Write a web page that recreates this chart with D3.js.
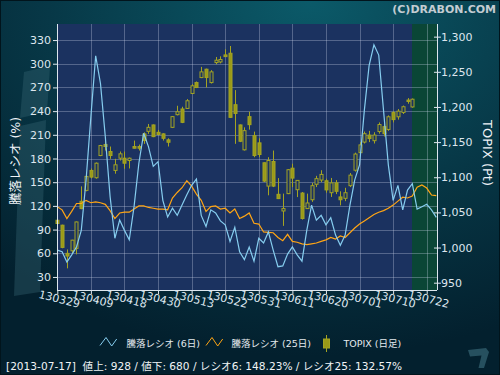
<!DOCTYPE html>
<html>
<head>
<meta charset="utf-8">
<script src="https://cdn.jsdelivr.net/npm/d3@7"></script>
<style>
  body { margin: 0; background: #03202e; }
  svg { display: block; font-family: "DejaVu Sans", "Noto Sans CJK JP", sans-serif; }
</style>
</head>
<body>
<div id="chart"></div>
<script>
// trading days shown on the x axis (yymmdd)
const dates = [
  "130329",
  "130401","130402","130403","130404","130405","130408","130409","130410","130411","130412",
  "130415","130416","130417","130418","130419","130422","130423","130424","130425","130426","130430",
  "130501","130502","130507","130508","130509","130510","130513","130514","130515","130516","130517",
  "130520","130521","130522","130523","130524","130527","130528","130529","130530","130531",
  "130603","130604","130605","130606","130607","130610","130611","130612","130613","130614",
  "130617","130618","130619","130620","130621","130624","130625","130626","130627","130628",
  "130701","130702","130703","130704","130705","130708","130709","130710","130711","130712",
  "130716","130717","130718","130719","130722","130723","130724"
];
const tickLabels = ["130329","130409","130418","130430","130513","130522","130531","130611","130620","130701","130710","130722"];
const leftTicks = [30, 60, 90, 120, 150, 180, 210, 240, 270, 300, 330];
const rightTicks = [950, 1000, 1050, 1100, 1150, 1200, 1250, 1300];

// 騰落レシオ (6日)
const ratio6 = [64, 62, 49, 58, 68, 89, 153, 233, 310, 275, 208, 132, 79, 102, 89, 77, 119, 174, 212, 195,
  170, 176, 127, 106, 117, 108, 121, 134, 146, 154, 108, 94, 115, 111, 101, 96, 75, 93, 62, 52,
  68, 50, 79, 73, 87, 64, 43, 44, 59, 68, 58, 50, 89, 121, 102, 108, 96, 105, 83, 70,
  83, 121, 153, 172, 241, 298, 324, 311, 241, 172, 127, 146, 115, 140, 148.23, 116, 119, 122, 115, 105.5];
// 騰落レシオ (25日)
const ratio25 = [119, 115, 104, 113, 123, 123, 127, 124, 125, 124, 122, 114, 104, 111, 112, 112, 116, 120, 120, 118,
  117, 116, 116, 115, 130, 137, 143, 152, 145, 135, 127, 113, 119, 120, 116, 117, 111, 116, 104, 107,
  111, 98, 97, 87, 86.5, 86, 80, 76, 84, 75, 74, 72, 71, 72, 73, 75, 77, 80, 78, 82,
  80, 86, 92, 97, 101, 105, 109, 112, 114, 117, 121, 126, 131, 130, 132.57, 143.5, 146.4, 142.6, 133.8, 133];

// TOPIX daily candles
const open = [1038.8, 1031.8, 991.7, 995.4, 998.8, 1065.8, 1081.3, 1109.7, 1099.3, 1130.9,
  1146.5, 1136.6, 1109.7, 1127.1, 1127.1, 1123.8, 1143.7, 1143.7, 1161.7, 1165.3,
  1174.4, 1163.9, 1161.7, 1153.2, 1171.0, 1189.0, 1197.1, 1197.9, 1219.2, 1234.7,
  1241.8, 1253.7, 1234.7, 1263.1, 1264.0, 1274.0, 1276.4, 1203.2, 1174.4, 1139.0,
  1186.2, 1159.2, 1148.9, 1120.6, 1087.4, 1122.4, 1075.7, 1052.0, 1076.7, 1112.9,
  1082.3, 1077.5, 1055.4, 1068, 1090, 1096, 1095, 1078, 1092, 1072,
  1070, 1088, 1110, 1135, 1150, 1160, 1152, 1165, 1172, 1168,
  1192, 1186, 1192.2, 1209.8, 1200];
const high = [1039.5, 1032.5, 997.3, 1011.0, 1037.0, 1087.0, 1102.0, 1112.5, 1121.0, 1146.0,
  1152.2, 1143.7, 1126.2, 1136.6, 1136.6, 1128.0, 1152.2, 1146.5, 1163.9, 1175.8,
  1175.0, 1167.3, 1162.5, 1155.4, 1187.0, 1201.7, 1200.3, 1211.2, 1232.5, 1236.2,
  1257.0, 1254.5, 1252.3, 1271.1, 1272.0, 1282.0, 1286.7, 1224.0, 1175.0, 1171.0,
  1193.2, 1164.9, 1155.4, 1121.0, 1128.5, 1138.0, 1098.8, 1076.7, 1111.5, 1119.2,
  1096.0, 1079.0, 1076.7, 1092, 1102, 1110, 1098, 1099, 1096, 1080,
  1085, 1106, 1135, 1150, 1165, 1166, 1164, 1178, 1176, 1188,
  1194, 1197, 1202, 1212.6, 1212];
const low = [1033.5, 999.0, 970.4, 992.1, 990.3, 1054.5, 1080.0, 1098.3, 1098.0, 1130.0,
  1138.0, 1126.2, 1105.0, 1123.8, 1112.1, 1112.5, 1141.0, 1138.0, 1147.5, 1161.7,
  1157.0, 1160.0, 1152.2, 1143.7, 1170.0, 1188.0, 1177.0, 1197.1, 1218.3, 1226.8,
  1241.0, 1227.7, 1233.3, 1260.8, 1262.0, 1271.0, 1184.5, 1147.5, 1150.0, 1138.0,
  1167.7, 1128.5, 1128.5, 1093.1, 1074.3, 1086.0, 1069.0, 1030.8, 1076.0, 1086.0,
  1071.8, 1039.8, 1055.0, 1065, 1086, 1093, 1078, 1072, 1076, 1060,
  1066, 1086, 1108, 1132, 1148, 1150, 1148, 1162, 1158, 1166,
  1178, 1182, 1190, 1204.6, 1199];
const close = [1034.2, 1000.2, 987.9, 1010.5, 1036.4, 1055.4, 1101.2, 1100.2, 1120.0, 1145.1,
  1143.7, 1130.9, 1117.7, 1133.3, 1120.0, 1127.1, 1141.3, 1141.3, 1152.2, 1171.0,
  1157.8, 1160.7, 1155.4, 1149.8, 1186.2, 1193.2, 1178.1, 1208.8, 1230.1, 1227.7,
  1249.9, 1241.8, 1249.9, 1266.5, 1267.5, 1271.6, 1185.2, 1190.8, 1151.2, 1166.3,
  1174.8, 1130.9, 1132.3, 1094.5, 1123.8, 1087.4, 1069.6, 1055.4, 1110.7, 1098.8,
  1095.5, 1041.3, 1063.4, 1088, 1098, 1104, 1082, 1092, 1080, 1068,
  1078, 1103, 1133, 1146, 1162, 1155, 1160, 1175, 1162, 1186,
  1182, 1194, 1200.3, 1207.8, 1211];

const W = 500, H = 375;
const plot = { left: 57, right: 437, top: 24, bottom: 290, future: 412 };
const olive = "#9a9a18", oliveLine = "#a4a422";

const svg = d3.select("#chart").append("svg")
  .attr("width", W)
  .attr("height", H);

const defs = svg.append("defs");
const bg = defs.append("radialGradient")
  .attr("id", "bg")
  .attr("cx", "62%").attr("cy", "0%").attr("r", "95%");
bg.append("stop").attr("offset", "0%").attr("stop-color", "#0b5a69");
bg.append("stop").attr("offset", "55%").attr("stop-color", "#073847");
bg.append("stop").attr("offset", "100%").attr("stop-color", "#03202e");

svg.append("rect").attr("width", W).attr("height", H).attr("fill", "url(#bg)");

// faint slanted logo band behind the left axis
const logo = svg.append("g").attr("fill", "#3a6a78").attr("opacity", 0.35);
logo.append("path").attr("d", "M24,72 L50,66 L47,112 L20,118 Z");
logo.append("path").attr("d", "M20,126 L46,120 L40,292 L14,296 Z");

const x = d3.scalePoint().domain(dates).range([57.3, 436.3]);
const yR = d3.scaleLinear().domain([13.5, 350.3]).range([plot.bottom, plot.top]);
const yP = d3.scaleLinear().domain([939.6, 1318]).range([plot.bottom, plot.top]);

// plot background, data part and the green part after the last session
svg.append("rect")
  .attr("x", plot.left).attr("y", plot.top)
  .attr("width", plot.future - plot.left).attr("height", plot.bottom - plot.top)
  .attr("fill", "#1b3260");
svg.append("rect")
  .attr("x", plot.future).attr("y", plot.top)
  .attr("width", plot.right - plot.future).attr("height", plot.bottom - plot.top)
  .attr("fill", "#0a4636");

// Grid lines
const grid = svg.append("g")
  .attr("stroke", "#c8d2e6")
  .attr("stroke-opacity", 0.33)
  .attr("shape-rendering", "crispEdges");
grid.selectAll(".hg")
  .data(leftTicks)
  .enter().append("line")
  .attr("x1", plot.left).attr("x2", plot.right)
  .attr("y1", (d) => Math.round(yR(d)) + 0.5)
  .attr("y2", (d) => Math.round(yR(d)) + 0.5);
grid.selectAll(".vg")
  .data(tickLabels)
  .enter().append("line")
  .attr("y1", plot.top).attr("y2", plot.bottom)
  .attr("x1", (d) => Math.round(x(d)) + 0.5)
  .attr("x2", (d) => Math.round(x(d)) + 0.5);

// Candles
const candles = svg.append("g").selectAll("g")
  .data(open.map((o, i) => ({ d: dates[i], o, h: high[i], l: low[i], c: close[i] })))
  .enter().append("g")
  .attr("transform", (d) => `translate(${Math.round(x(d.d)) + 0.5},0)`);

candles.append("line")
  .attr("y1", (d) => yP(d.h))
  .attr("y2", (d) => yP(d.l))
  .attr("stroke", oliveLine)
  .attr("stroke-width", 1);

candles.append("rect")
  .attr("x", -1.5)
  .attr("width", 3)
  .attr("y", (d) => yP(Math.max(d.o, d.c)))
  .attr("height", (d) => Math.max(1, Math.abs(yP(d.o) - yP(d.c))))
  .attr("fill", (d) => (d.c < d.o ? olive : "#1b3260"))
  .attr("stroke", oliveLine)
  .attr("stroke-width", 1);

// Ratio lines
const line = d3.line()
  .x((d, i) => x(dates[i]))
  .y((d) => yR(d));

svg.append("path")
  .datum(ratio25)
  .attr("d", line)
  .attr("fill", "none")
  .attr("stroke", "#ffa514")
  .attr("stroke-width", 1.2);

svg.append("path")
  .datum(ratio6)
  .attr("d", line)
  .attr("fill", "none")
  .attr("stroke", "#86cdef")
  .attr("stroke-width", 1.2);

// Axes
const axisColor = "#dde6ee";

const left = svg.append("g")
  .attr("transform", `translate(${plot.left},0)`)
  .call(d3.axisLeft(yR).tickValues(leftTicks).tickSize(4).tickSizeOuter(0).tickPadding(2));
left.select(".domain").attr("d", `M0.5,${plot.top}V${plot.bottom}`);

const right = svg.append("g")
  .attr("transform", `translate(${plot.right},0)`)
  .call(d3.axisRight(yP).tickValues(rightTicks).tickFormat(d3.format(",")).tickSize(4).tickSizeOuter(0).tickPadding(0));
right.select(".domain").attr("d", `M0.5,${plot.top}V${plot.bottom}`);
right.selectAll(".tick line").attr("x1", -3);

[left, right].forEach((g) => {
  g.selectAll("path, line").attr("stroke", axisColor);
  g.selectAll("text")
    .attr("fill", axisColor)
    .attr("font-size", 11)
    .attr("font-family", "DejaVu Sans");
});

const bottom = svg.append("g")
  .attr("transform", `translate(0,${plot.bottom})`)
  .call(d3.axisBottom(x).tickValues(tickLabels).tickSize(4).tickSizeOuter(0).tickFormat(""));
bottom.select(".domain").attr("d", `M${plot.left},0.5H${plot.right}`);
bottom.selectAll("path, line").attr("stroke", axisColor);

svg.append("g").selectAll("text")
  .data(tickLabels)
  .enter().append("text")
  .attr("transform", (d) => `translate(${x(d) + 2},${plot.bottom + 9}) rotate(14)`)
  .attr("text-anchor", "middle")
  .attr("dy", "0.35em")
  .attr("font-size", 11)
  .attr("fill", axisColor)
  .text((d) => d);

// Axis titles
svg.append("text")
  .attr("transform", "translate(20,161) rotate(-90)")
  .attr("text-anchor", "middle")
  .attr("font-size", 12.5)
  .attr("fill", "#eef2f6")
  .text("騰落レシオ (%)");

svg.append("text")
  .attr("transform", "translate(483,153) rotate(90)")
  .attr("text-anchor", "middle")
  .attr("font-size", 13)
  .attr("fill", "#eef2f6")
  .text("TOPIX (Pt)");

svg.append("text")
  .attr("x", 496).attr("y", 13)
  .attr("text-anchor", "end")
  .attr("font-size", 11)
  .attr("font-weight", "bold")
  .attr("fill", "#c3ccd2")
  .text("(C)DRABON.COM");

// Legend
const legend = svg.append("g").attr("font-size", 9.5).attr("fill", "#e4eaee");
legend.append("polyline")
  .attr("points", "100,345.5 106,337.5 111.7,346 116.7,339")
  .attr("fill", "none").attr("stroke", "#86cdef").attr("stroke-width", 1);
legend.append("text").attr("x", 126.5).attr("y", 347).text("騰落レシオ (6日)");
legend.append("polyline")
  .attr("points", "206,345.5 212,337.5 217.7,346 222.7,339")
  .attr("fill", "none").attr("stroke", "#ffa514").attr("stroke-width", 1);
legend.append("text").attr("x", 231.5).attr("y", 347).text("騰落レシオ (25日)");
legend.append("line")
  .attr("x1", 326.5).attr("x2", 326.5).attr("y1", 335).attr("y2", 352)
  .attr("stroke", oliveLine);
legend.append("rect")
  .attr("x", 323.5).attr("y", 339).attr("width", 6).attr("height", 9)
  .attr("fill", olive).attr("stroke", oliveLine);
legend.append("text").attr("x", 343.5).attr("y", 347).text("TOPIX (日足)");

// Status line
svg.append("text")
  .attr("x", 6).attr("y", 370)
  .attr("font-size", 10.6)
  .attr("fill", "#f0f3f5")
  .attr("xml:space", "preserve")
  .text("[2013-07-17]  値上: 928 / 値下: 680 / レシオ6: 148.23% / レシオ25: 132.57%");

// small mark bottom right
svg.append("path")
  .attr("d", "M468,350 L486,348 L489,352 L484,368 L478.5,368 L481.5,355.5 L470,356.5 Z")
  .attr("fill", "#2f5d6c")
  .attr("opacity", 0.8);

svg.append("rect")
  .attr("x", 0.5).attr("y", 0.5).attr("width", W - 1).attr("height", H - 1)
  .attr("fill", "none").attr("stroke", "#01141c");
</script>
</body>
</html>
